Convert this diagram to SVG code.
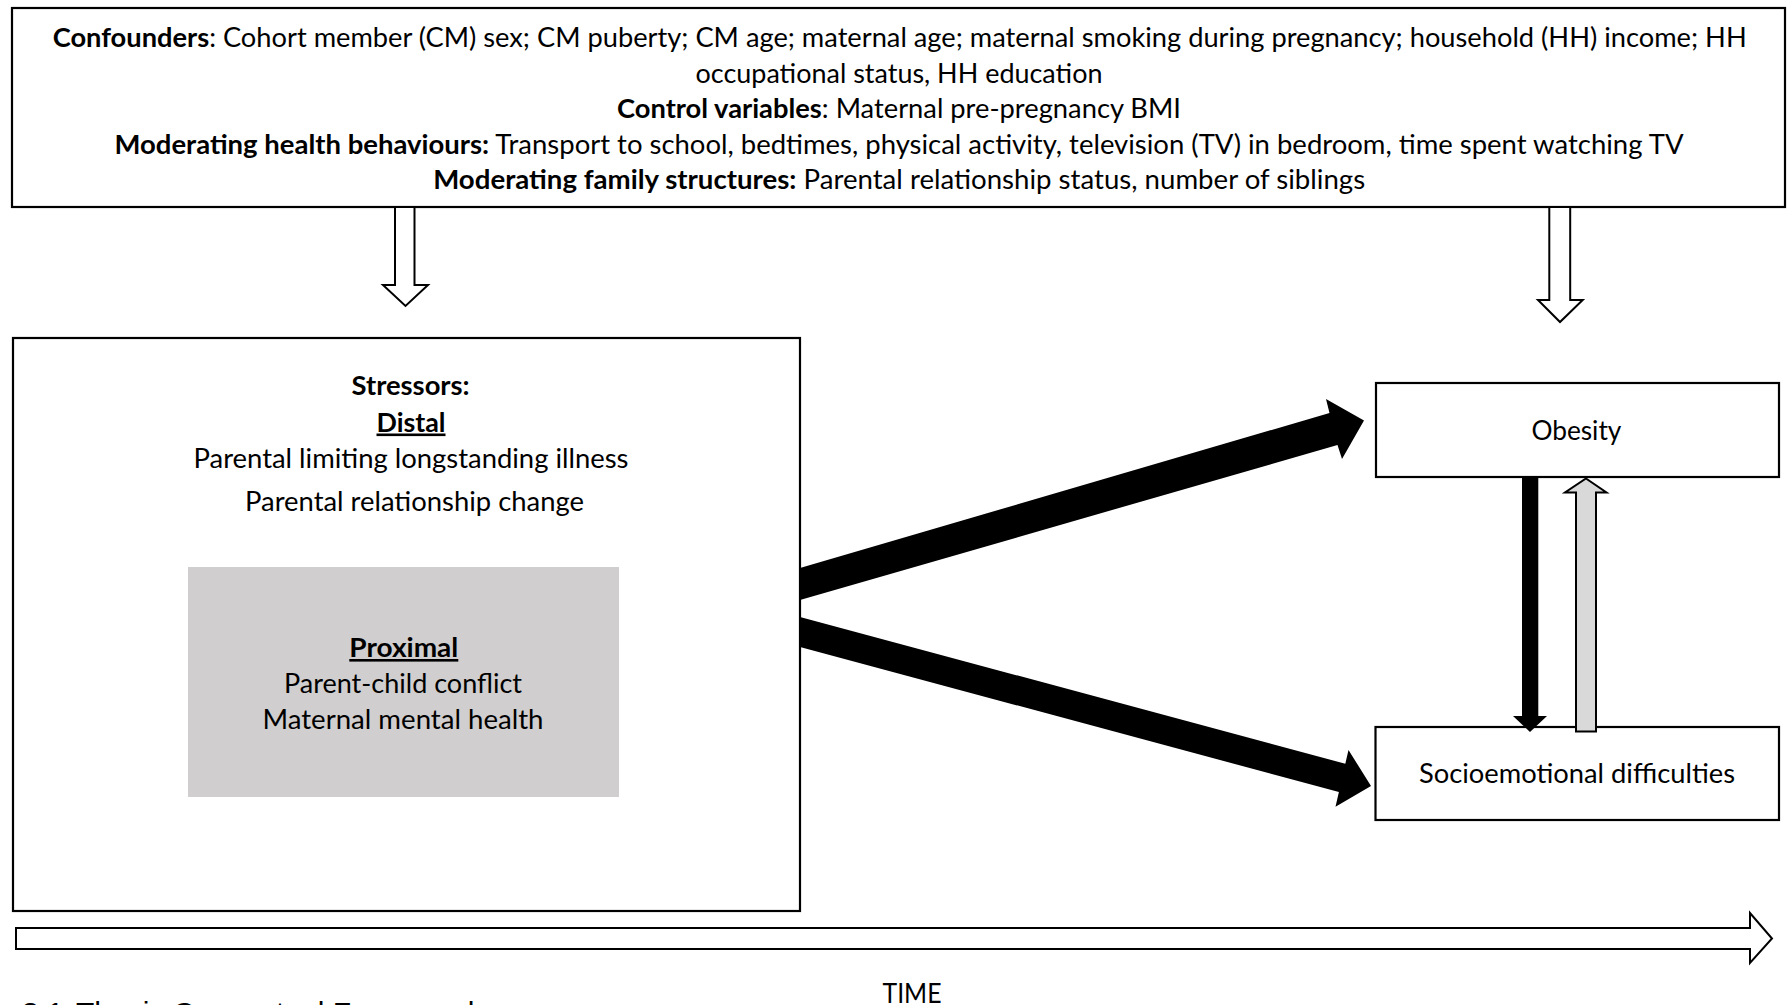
<svg xmlns="http://www.w3.org/2000/svg" width="1787" height="1005" viewBox="0 0 1787 1005">
<style>
.box{fill:#ffffff;stroke:#000000;stroke-width:2.2}
.t{font-family:Lato,"Open Sans","Liberation Sans",sans-serif;font-size:26px;fill:#000000}
.b{font-weight:bold}
.u{text-decoration:underline}
.hollow{fill:#ffffff;stroke:#000000;stroke-width:2}
.solid{fill:#000000;stroke:none}
.greyarrow{fill:#d9d9d9;stroke:#000000;stroke-width:2}
</style>
<rect width="1787" height="1005" fill="#ffffff"/>
<g id="confounders">
<rect class="box" x="12" y="8" width="1773" height="199"/>
<text class="t" x="899.7" y="47.3" text-anchor="middle" textLength="1694" lengthAdjust="spacingAndGlyphs"><tspan class="b">Confounders</tspan>: Cohort member (CM) sex; CM puberty; CM age; maternal age; maternal smoking during pregnancy; household (HH) income; HH</text>
<text class="t" x="899" y="82.8" text-anchor="middle" textLength="407" lengthAdjust="spacingAndGlyphs">occupational status, HH education</text>
<text class="t" x="899" y="118.3" text-anchor="middle" textLength="564" lengthAdjust="spacingAndGlyphs"><tspan class="b">Control variables</tspan>: Maternal pre-pregnancy BMI</text>
<text class="t" x="899" y="153.8" text-anchor="middle" textLength="1569" lengthAdjust="spacingAndGlyphs"><tspan class="b">Moderating health behaviours:</tspan> Transport to school, bedtimes, physical activity, television (TV) in bedroom, time spent watching TV</text>
<text class="t" x="899.2" y="189.3" text-anchor="middle" textLength="932" lengthAdjust="spacingAndGlyphs"><tspan class="b">Moderating family structures:</tspan> Parental relationship status, number of siblings</text>
</g>
<g id="stressors">
<rect class="box" x="13" y="338" width="787" height="573"/>
<text class="t b" x="410.6" y="395" text-anchor="middle" textLength="118" lengthAdjust="spacingAndGlyphs">Stressors:</text>
<text class="t b u" x="411" y="431.5" text-anchor="middle" textLength="69" lengthAdjust="spacingAndGlyphs">Distal</text>
<text class="t" x="411" y="468" text-anchor="middle" textLength="435" lengthAdjust="spacingAndGlyphs">Parental limiting longstanding illness</text>
<text class="t" x="414.5" y="511" text-anchor="middle" textLength="339" lengthAdjust="spacingAndGlyphs">Parental relationship change</text>
</g>
<g id="proximal">
<rect x="188" y="567" width="431" height="230" fill="#d0cece"/>
<text class="t b u" x="403.8" y="657" text-anchor="middle" textLength="109" lengthAdjust="spacingAndGlyphs">Proximal</text>
<text class="t" x="403" y="693" text-anchor="middle" textLength="238" lengthAdjust="spacingAndGlyphs">Parent-child conflict</text>
<text class="t" x="403" y="728.5" text-anchor="middle" textLength="281" lengthAdjust="spacingAndGlyphs">Maternal mental health</text>
</g>
<g id="obesity">
<rect class="box" x="1376" y="383" width="403" height="94"/>
<text class="t" x="1576.4" y="440" text-anchor="middle" textLength="90" lengthAdjust="spacingAndGlyphs">Obesity</text>
</g>
<g id="socioemotional">
<rect class="box" x="1375.5" y="727" width="403.5" height="93"/>
<text class="t" x="1577" y="783.3" text-anchor="middle" textLength="316" lengthAdjust="spacingAndGlyphs">Socioemotional difficulties</text>
</g>
<g id="connectors">
<polygon class="hollow" points="395,207 414.5,207 414.5,285 428,285 405.5,306 383,285 395,285"/>
<polygon class="hollow" points="1549.3,207 1570.2,207 1570.2,300 1582.7,300 1560,322 1538,300 1549.3,300"/>
<polygon class="solid" points="800,568 1329.5,413 1326,399 1364,420.5 1342,459 1337.5,445 800,600"/>
<polygon class="solid" points="800,617 1345.3,763.7 1348.5,750 1371,786 1335.5,806.7 1338.9,792 800,647"/>
<polygon class="solid" points="1522,477 1538.3,477 1538.3,716 1547,716 1530,732 1513,716 1522,716"/>
<polygon class="greyarrow" points="1586,478.5 1606.5,492.5 1596,492.5 1596,731.5 1576,731.5 1576,492.5 1565,492.5"/>
<polygon class="hollow" points="16,928 1750,928 1750,913 1772,938.5 1750,963 1750,949 16,949"/>
</g>
<g id="time-label">
<text class="t" x="912" y="1002.7" text-anchor="middle" textLength="59" lengthAdjust="spacingAndGlyphs">TIME</text>
</g>
<text font-family="'Liberation Sans',Arial,sans-serif" font-size="30" fill="#000000" y="1022.5"><tspan x="22">3.1</tspan><tspan x="76">Thesis Conceptual Framework</tspan></text>
</svg>
